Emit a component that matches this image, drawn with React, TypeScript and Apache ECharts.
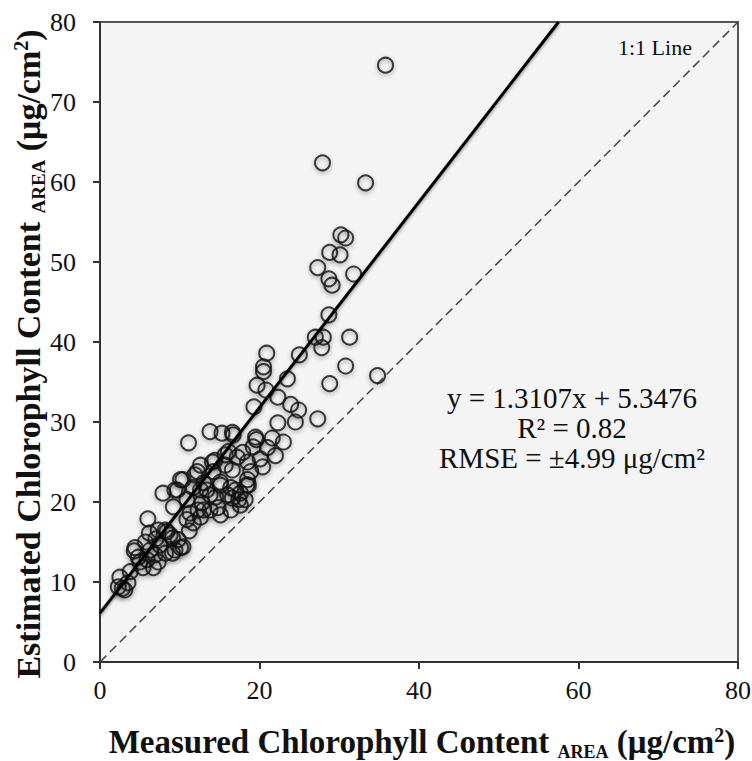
import React, { useEffect, useRef } from "react";
import * as echarts from "echarts";

const xTicks = [0, 20, 40, 60, 80];
const yTicks = [0, 10, 20, 30, 40, 50, 60, 70, 80];

// fitted line as drawn in the figure (endpoints)
const fitLine: number[][] = [[0, 6.1], [57.5, 80]];
const oneToOne: number[][] = [[0, 0], [80, 80]];

// measured (x), estimated (y)
const points: number[][] = [
  [35.8, 74.6], [27.9, 62.4], [33.3, 59.9], [30.2, 53.4], [30.8, 53.0],
  [28.8, 51.2], [30.1, 50.9], [27.3, 49.3], [31.8, 48.5], [28.7, 47.9],
  [29.1, 47.1], [28.7, 43.4], [27.0, 40.6], [28.0, 40.6], [31.3, 40.6],
  [27.8, 39.3], [20.9, 38.6], [25.0, 38.4], [20.5, 36.9], [20.5, 36.3],
  [30.8, 37.0], [23.5, 35.4], [19.7, 34.6], [20.8, 34.0], [28.8, 34.8],
  [34.8, 35.8], [22.3, 33.1], [23.9, 32.2], [24.9, 31.5], [19.3, 31.9],
  [27.3, 30.4], [24.5, 30.0], [22.3, 29.9],
  [11.1, 27.4], [13.8, 28.8], [15.3, 28.6], [16.7, 28.4], [19.6, 27.8],
  [21.6, 28.0], [23.0, 27.5], [21.0, 26.8], [19.2, 26.9], [16.1, 26.3],
  [17.2, 25.6], [18.5, 25.0], [15.7, 24.6], [12.2, 23.8], [14.2, 23.8],
  [16.6, 24.0], [18.9, 23.8], [10.4, 22.8], [13.0, 22.4], [15.1, 22.5],
  [16.4, 21.8], [18.5, 22.8], [9.7, 21.5], [11.7, 21.8], [13.8, 20.9],
  [16.0, 20.9], [17.6, 21.1], [18.6, 22.1], [10.9, 20.3], [12.8, 19.9],
  [14.8, 19.3], [16.6, 20.5], [9.2, 19.4], [11.3, 18.6], [13.0, 19.0],
  [18.2, 20.3], [17.6, 19.6], [16.4, 19.0], [15.1, 18.4], [14.4, 25.2],
  [17.9, 26.2], [12.6, 24.6], [20.1, 25.4], [16.6, 28.7], [13.4, 21.5],
  [7.9, 21.1], [9.4, 21.5], [6.0, 17.9], [6.2, 16.1], [7.3, 16.5],
  [8.4, 16.3], [9.1, 15.5], [9.8, 15.3], [10.4, 14.4], [4.4, 14.3],
  [4.8, 13.1], [5.9, 12.8], [6.7, 11.8], [5.4, 11.8], [2.5, 10.6],
  [2.3, 9.4], [3.1, 9.0], [3.5, 9.9], [2.8, 9.2], [11.7, 17.4],
  [10.9, 17.8], [12.6, 18.1], [7.5, 14.6], [8.2, 13.6], [6.9, 13.4],
  [6.3, 14.0], [9.4, 14.0], [10.1, 14.3], [9.1, 13.6], [5.7, 15.0],
  [8.8, 15.9], [7.3, 12.5], [4.3, 13.9], [5.0, 12.5], [3.8, 11.3],
  [10.1, 22.8], [11.9, 23.4], [12.6, 21.5], [14.5, 20.6], [15.1, 22.1],
  [17.0, 21.5], [17.4, 20.3], [18.4, 22.1], [14.1, 25.0], [15.7, 25.9],
  [19.5, 28.1], [22.0, 25.8], [20.4, 24.4], [13.8, 19.0], [12.3, 19.0],
  [8.2, 16.5], [7.0, 15.4], [11.2, 16.4]
];

const serif = "'Liberation Serif', 'DejaVu Serif', serif";

export default function App() {
  const ref = useRef<HTMLDivElement>(null);
  useEffect(() => {
    if (!ref.current) return;
    const chart = echarts.init(ref.current, undefined, { renderer: "svg" });
    const makeRich = (fs: number) => ({
      a: { fontFamily: serif, fontSize: fs, fontWeight: "bold", fill: "#111", verticalAlign: "middle" },
      s: { fontFamily: serif, fontSize: Math.round(fs * 0.56), fontWeight: "bold", fill: "#111", padding: [Math.round(fs * 0.62), 0, 0, 0] },
      p: { fontFamily: serif, fontSize: Math.round(fs * 0.6), fontWeight: "bold", fill: "#111", padding: [0, 0, Math.round(fs * 0.45), 0] },
    });
    chart.setOption({
      animation: false,
      backgroundColor: "#ffffff",
      grid: {
        left: 100,
        right: 14,
        top: 22,
        bottom: 99,
        containLabel: false,
        outerBoundsMode: "none",
        show: true,
        backgroundColor: "#f4f4f4",
        borderColor: "#555",
        borderWidth: 2,
      },
      xAxis: {
        type: "value",
        min: xTicks[0],
        max: xTicks[xTicks.length - 1],
        interval: 20,
        splitLine: { show: false },
        axisLine: { show: true, lineStyle: { color: "#333", width: 2 } },
        axisTick: { show: true, inside: false, length: 7, lineStyle: { color: "#333", width: 2 } },
        axisLabel: { fontFamily: serif, fontSize: 26, color: "#111", margin: 15 },
      },
      yAxis: {
        type: "value",
        min: yTicks[0],
        max: yTicks[yTicks.length - 1],
        interval: 10,
        splitLine: { show: false },
        axisLine: { show: true, lineStyle: { color: "#333", width: 2 } },
        axisTick: { show: true, inside: false, length: 7, lineStyle: { color: "#333", width: 2 } },
        axisLabel: { fontFamily: serif, fontSize: 26, color: "#111", margin: 24 },
      },
      graphic: [
        {
          type: "text",
          x: 422,
          y: 742,
          style: {
            text: "{a|Measured Chlorophyll Content }{s|AREA}{a| (μg/cm}{p|2}{a|)}",
            rich: makeRich(33),
            align: "center",
            verticalAlign: "middle",
          },
        },
        {
          type: "text",
          x: 28,
          y: 354,
          rotation: Math.PI / 2,
          style: {
            text: "{a|Estimated Chlorophyll Content }{s|AREA}{a| (μg/cm}{p|2}{a|)}",
            rich: makeRich(34),
            align: "center",
            verticalAlign: "middle",
          },
        },
        {
          type: "text",
          left: 618,
          top: 36,
          style: { text: "1:1 Line", fontFamily: serif, fontSize: 22, fill: "#111" },
        },
        {
          type: "text",
          x: 572,
          y: 428,
          style: {
            text: "y = 1.3107x + 5.3476\nR² = 0.82\nRMSE = ±4.99 μg/cm²",
            fontFamily: serif,
            fontSize: 29,
            lineHeight: 30,
            fill: "#111",
            align: "center",
            verticalAlign: "middle",
          },
          z: 100,
        },
      ],
      series: [
        {
          type: "line",
          data: oneToOne,
          symbol: "none",
          lineStyle: { color: "#444", width: 1.5, type: [9, 5] },
          z: 1,
        },
        {
          type: "scatter",
          data: points,
          symbol: "circle",
          symbolSize: 15,
          itemStyle: {
            color: "rgba(255,255,255,0)",
            borderColor: "#111",
            borderWidth: 2,
            shadowBlur: 4,
            shadowColor: "rgba(0,0,0,0.45)",
            shadowOffsetY: 2,
          },
          z: 2,
        },
        {
          type: "line",
          data: fitLine,
          symbol: "none",
          lineStyle: {
            color: "#000",
            width: 3,
            shadowBlur: 3,
            shadowColor: "rgba(0,0,0,0.4)",
            shadowOffsetY: 2,
          },
          z: 3,
        },
      ],
    });
    return () => chart.dispose();
  }, []);
  return (
    <div
      ref={ref}
      style={{ position: "fixed", left: 0, top: 0, width: 752, height: 761, background: "#fff" }}
    />
  );
}
